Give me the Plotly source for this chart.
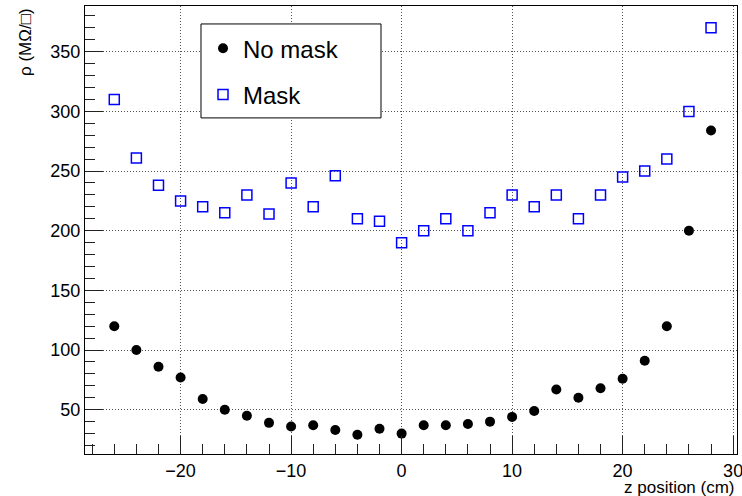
import plotly.graph_objects as go

z = [-26, -24, -22, -20, -18, -16, -14, -12, -10, -8, -6, -4, -2, 0,
     2, 4, 6, 8, 10, 12, 14, 16, 18, 20, 22, 24, 26, 28]
no_mask = [120, 100, 86, 77, 59, 50, 45, 39, 36, 37, 33, 29, 34, 30,
           37, 37, 38, 40, 44, 49, 67, 60, 68, 76, 91, 120, 200, 284]
mask = [310, 261, 238, 225, 220, 215, 230, 214, 240, 220, 246, 210, 208, 190,
        200, 210, 200, 215, 230, 220, 230, 210, 230, 245, 250, 260, 300, 370]

FONT = "Liberation Sans, Arial, Helvetica, sans-serif"

fig = go.Figure()
fig.add_trace(go.Scatter(
    x=z, y=no_mask, mode="markers", name="No mask", legendgroup="a",
    marker=dict(symbol="circle", size=10, color="black"),
))
fig.add_trace(go.Scatter(
    x=z, y=mask, mode="markers", name="Mask", legendgroup="b",
    marker=dict(symbol="square-open", size=10, color="#0000ff",
                line=dict(width=1.5, color="#0000ff")),
))

axis_common = dict(
    showline=True, linecolor="black", linewidth=1, mirror=True,
    ticks="inside", ticklen=18, tickcolor="#222", tickwidth=1,
    showgrid=True, gridcolor="#555", griddash="1px,2px", gridwidth=1,
    zeroline=False, ticklabeloverflow="allow", automargin=False,
    tickfont=dict(family=FONT, size=18, color="black"),
)

fig.update_xaxes(
    range=[-28.65, 30.35], dtick=10, tick0=0,
    minor=dict(ticks="inside", ticklen=10, dtick=2, tick0=0,
               tickcolor="#222", showgrid=False),
    **axis_common,
)
fig.update_yaxes(
    range=[12.9, 388.3], dtick=50, tick0=0,
    minor=dict(ticks="inside", ticklen=10, dtick=10, tick0=0,
               tickcolor="#222", showgrid=False),
    **axis_common,
)

fig.update_layout(
    width=742, height=496,
    margin=dict(l=85, r=5, t=6, b=42),
    plot_bgcolor="white", paper_bgcolor="white",
    font=dict(family=FONT, color="black"),
    showlegend=True,
    legend=dict(
        x=0.181, y=0.955, xanchor="left", yanchor="top",
        bgcolor="rgba(0,0,0,0)", borderwidth=0,
        font=dict(family=FONT, size=24, color="black"),
        tracegroupgap=12,
    ),
    shapes=[dict(
        type="rect", xref="paper", yref="paper",
        x0=0.1779, x1=0.454, y0=0.7502, y1=0.9599,
        line=dict(color="black", width=1), fillcolor="white", layer="above",
    )],
    annotations=[
        dict(text="ρ (MΩ/□)", xref="paper", yref="paper", x=-0.092, y=1.0,
             xanchor="center", yanchor="top", textangle=-90, showarrow=False,
             font=dict(family=FONT, size=17, color="black")),
        dict(text="z position (cm)", xref="paper", yref="paper", x=1.0, y=-0.075,
             xanchor="right", yanchor="middle", showarrow=False,
             font=dict(family=FONT, size=17, color="black")),
    ],
)

fig.write_html("out.html",
               config={"displayModeBar": False},
               post_script="document.body.style.margin='0px';document.body.style.overflow='hidden';")
